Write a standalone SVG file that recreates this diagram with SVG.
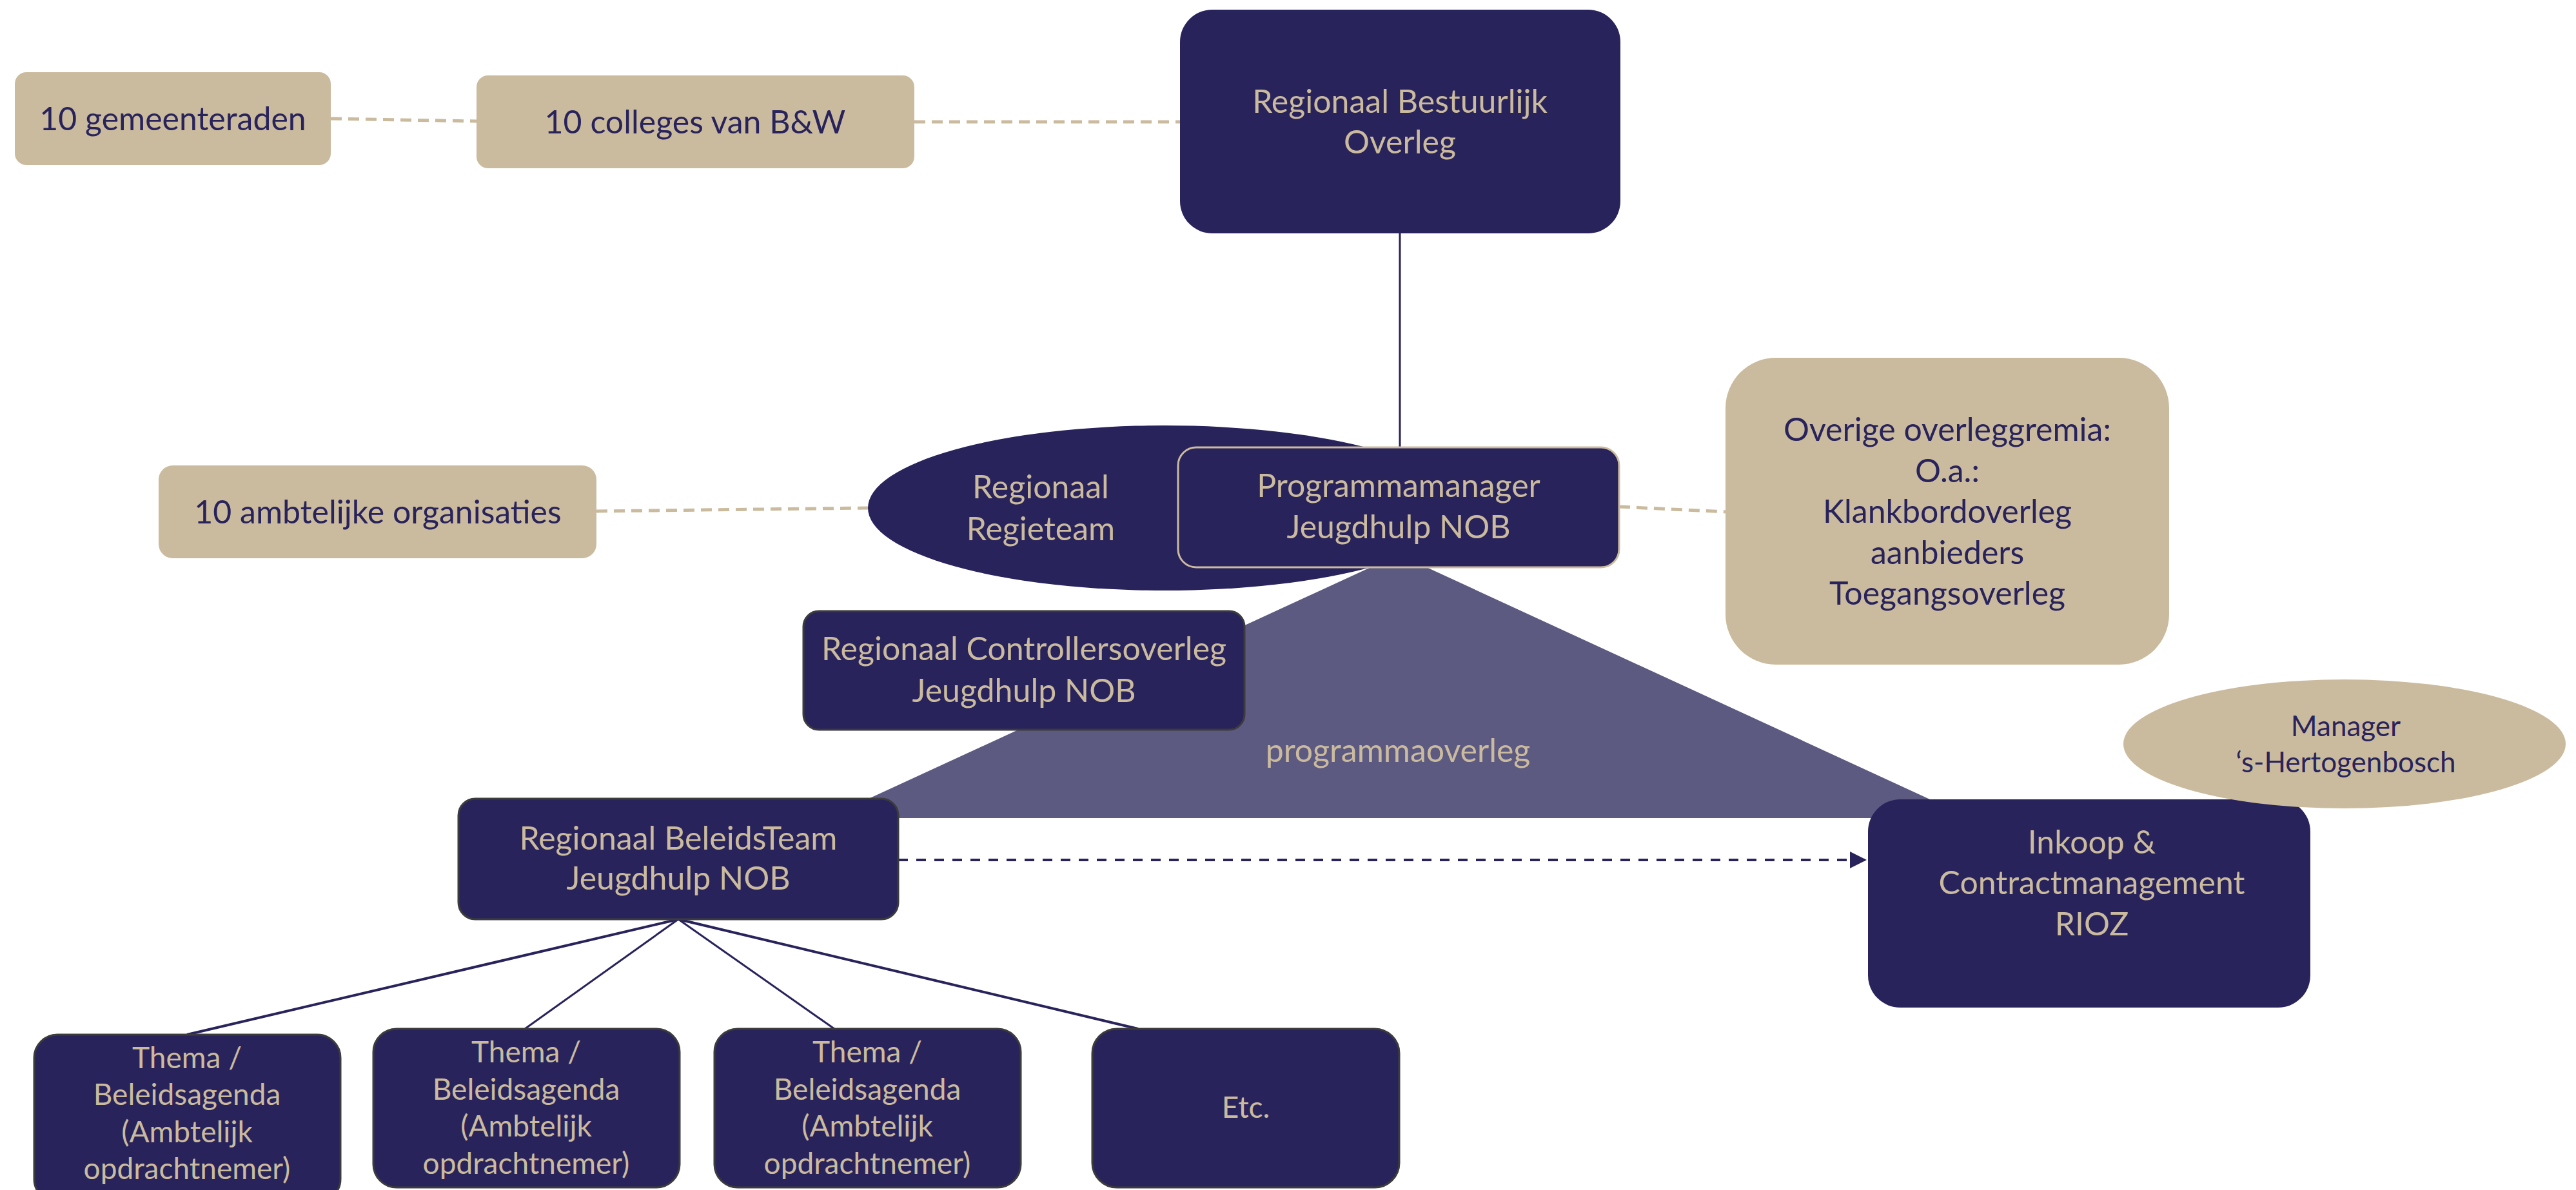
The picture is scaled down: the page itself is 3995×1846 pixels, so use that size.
<svg xmlns="http://www.w3.org/2000/svg" width="3995" height="1846" viewBox="0 0 3995 1846">
<style>
.navy{fill:#29235c}
.tan{fill:#cbbb9e}
.dk{stroke:#3c3c3c;stroke-width:3}
.t{font-family:Lato,"Liberation Sans",sans-serif;text-anchor:middle}
.tl{fill:#cbbb9e;font-size:50px}
.tn{fill:#29235c;font-size:50px}
.ts{fill:#cbbb9e;font-size:46px}
.dash{stroke:#cbbb9e;stroke-width:5;stroke-dasharray:17 10;fill:none}
.ln{stroke:#29235c;fill:none}
</style>
<defs>
<marker id="ah" markerUnits="userSpaceOnUse" markerWidth="28" markerHeight="28" refX="26" refY="13" orient="auto">
<path d="M0,0 L26,13 L0,26 Z" fill="#29235c"/>
</marker>
</defs>
<g id="connectors">
<line class="dash" x1="513" y1="184" x2="739" y2="188"/>
<line class="dash" x1="1418" y1="189" x2="1830" y2="189"/>
<line class="dash" x1="925" y1="793" x2="1346" y2="788"/>
<line class="dash" x1="2511" y1="786" x2="2676" y2="794"/>
<line class="ln" stroke-width="3" x1="2171" y1="362" x2="2171" y2="694"/>
<line class="ln" stroke-width="4" x1="1052" y1="1426" x2="290" y2="1605"/>
<line class="ln" stroke-width="3" x1="1052" y1="1426" x2="814" y2="1596"/>
<line class="ln" stroke-width="3" x1="1052" y1="1426" x2="1294" y2="1596"/>
<line class="ln" stroke-width="4" x1="1052" y1="1426" x2="1765" y2="1596"/>
<line class="ln" stroke-width="4" stroke-dasharray="15 13" x1="1393" y1="1334" x2="2895" y2="1334" marker-end="url(#ah)"/>
</g>
<g id="gemeenteraden">
<rect class="tan" x="23" y="112" width="490" height="144" rx="18"/>
<text class="t tn" x="268" y="202">10 gemeenteraden</text>
</g>
<g id="colleges">
<rect class="tan" x="739" y="117" width="679" height="144" rx="18"/>
<text class="t tn" x="1078" y="207">10 colleges van B&amp;W</text>
</g>
<g id="rbo">
<rect class="navy" x="1830" y="15" width="683" height="347" rx="50"/>
<text class="t tl" x="2171" y="175">Regionaal Bestuurlijk</text>
<text class="t tl" x="2171" y="238">Overleg</text>
</g>
<g id="ambtelijke">
<rect class="tan" x="246" y="722" width="679" height="144" rx="22"/>
<text class="t tn" x="586" y="812">10 ambtelijke organisaties</text>
</g>
<g id="regieteam">
<ellipse class="navy" cx="1806" cy="788" rx="460" ry="128"/>
<text class="t tl" x="1614" y="773">Regionaal</text>
<text class="t tl" x="1614" y="838">Regieteam</text>
</g>
<g id="programmaoverleg">
<polygon points="2169,860 3056,1269 1282,1269" fill="#5d5a82"/>
<text class="t tl" x="2168" y="1182">programmaoverleg</text>
</g>
<g id="programmamanager">
<rect class="navy" x="1827" y="694" width="684" height="186" rx="28" stroke="#cbbb9e" stroke-width="3"/>
<text class="t tl" x="2169" y="771">Programmamanager</text>
<text class="t tl" x="2169" y="835">Jeugdhulp NOB</text>
</g>
<g id="overige">
<rect class="tan" x="2676" y="555" width="688" height="476" rx="78"/>
<text class="t tn" x="3020" y="684">Overige overleggremia:</text>
<text class="t tn" x="3020" y="748">O.a.:</text>
<text class="t tn" x="3020" y="811">Klankbordoverleg</text>
<text class="t tn" x="3020" y="875">aanbieders</text>
<text class="t tn" x="3020" y="938">Toegangsoverleg</text>
</g>
<g id="controllers">
<rect class="navy dk" x="1246" y="948" width="684" height="184" rx="24"/>
<text class="t tl" x="1588" y="1024">Regionaal Controllersoverleg</text>
<text class="t tl" x="1588" y="1089">Jeugdhulp NOB</text>
</g>
<g id="beleidsteam">
<rect class="navy dk" x="711" y="1239" width="682" height="187" rx="26"/>
<text class="t tl" x="1052" y="1318">Regionaal BeleidsTeam</text>
<text class="t tl" x="1052" y="1380">Jeugdhulp NOB</text>
</g>
<g id="inkoop">
<rect class="navy" x="2897" y="1240" width="686" height="323" rx="50"/>
<text class="t tl" x="3244" y="1324">Inkoop &amp;</text>
<text class="t tl" x="3244" y="1387">Contractmanagement</text>
<text class="t tl" x="3244" y="1451">RIOZ</text>
</g>
<g id="manager">
<ellipse class="tan" cx="3636" cy="1154" rx="343" ry="100"/>
<text class="t tn" x="3638" y="1142" style="font-size:44px">Manager</text>
<text class="t tn" x="3638" y="1198" style="font-size:44px">‘s-Hertogenbosch</text>
</g>
<g id="thema1">
<rect class="navy dk" x="53" y="1605" width="475" height="260" rx="36"/>
<text class="t ts" x="290" y="1657">Thema /</text>
<text class="t ts" x="290" y="1714">Beleidsagenda</text>
<text class="t ts" x="290" y="1772">(Ambtelijk</text>
<text class="t ts" x="290" y="1829">opdrachtnemer)</text>
</g>
<g id="thema2">
<rect class="navy dk" x="579" y="1596" width="475" height="246" rx="36"/>
<text class="t ts" x="816" y="1648">Thema /</text>
<text class="t ts" x="816" y="1706">Beleidsagenda</text>
<text class="t ts" x="816" y="1763">(Ambtelijk</text>
<text class="t ts" x="816" y="1821">opdrachtnemer)</text>
</g>
<g id="thema3">
<rect class="navy dk" x="1108" y="1596" width="475" height="246" rx="36"/>
<text class="t ts" x="1345" y="1648">Thema /</text>
<text class="t ts" x="1345" y="1706">Beleidsagenda</text>
<text class="t ts" x="1345" y="1763">(Ambtelijk</text>
<text class="t ts" x="1345" y="1821">opdrachtnemer)</text>
</g>
<g id="etc">
<rect class="navy dk" x="1694" y="1596" width="476" height="246" rx="38"/>
<text class="t ts" x="1932" y="1734">Etc.</text>
</g>
</svg>
